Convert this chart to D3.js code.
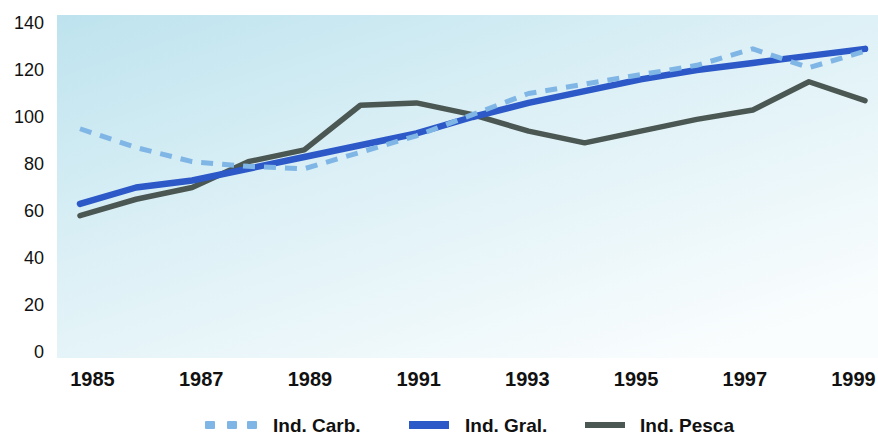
<!DOCTYPE html>
<html>
<head>
<meta charset="utf-8">
<script src="https://cdn.jsdelivr.net/npm/d3@7/dist/d3.min.js"></script>
<style>
  html, body { margin: 0; padding: 0; background: #fff; }
  svg { display: block; }
</style>
</head>
<body>
<svg id="mount" width="878" height="436"></svg>
<script>
var years = [1985, 1986, 1987, 1988, 1989, 1990, 1991, 1992, 1993, 1994, 1995, 1996, 1997, 1998, 1999];
var indCarb = [95, 87, 81, 79, 78, 85, 92, 101, 110, 114, 118, 122, 129, 121, 128];
var indGral = [63, 70, 73, 78, 83, 88, 93, 100, 106, 111, 116, 120, 123, 126, 129];
var indPesca = [58, 65, 70, 81, 86, 105, 106, 101, 94, 89, 94, 99, 103, 115, 107];
var xTicks = [1985, 1987, 1989, 1991, 1993, 1995, 1997, 1999];
var yTicks = [0, 20, 40, 60, 80, 100, 120, 140];
var seriesNames = ["Ind. Carb.", "Ind. Gral.", "Ind. Pesca"];

var colorCarb = "#80b6e6";
var colorGral = "#2c58c8";
var colorPesca = "#4b5752";

var svg = d3.select("#mount");

// background panel with soft gradient
var defs = svg.append("defs");
var grad = defs.append("linearGradient")
  .attr("id", "bg")
  .attr("x1", "0").attr("y1", "0")
  .attr("x2", "0.8").attr("y2", "1");
grad.append("stop").attr("offset", "0%").attr("stop-color", "#bee3ee");
grad.append("stop").attr("offset", "45%").attr("stop-color", "#dcf0f6");
grad.append("stop").attr("offset", "100%").attr("stop-color", "#fafdfe");

svg.append("rect")
  .attr("x", 57)
  .attr("y", 15)
  .attr("width", 821)
  .attr("height", 343)
  .attr("fill", "url(#bg)");

// scales
var x = d3.scaleLinear().domain([1985, 1999]).range([80, 865]);
var xLab = d3.scaleLinear().domain([1985, 1999]).range([92, 853]);
var y = d3.scaleLinear().domain([0, 140]).range([352, 23]);

// y axis labels
var yAxis = svg.append("g")
  .attr("transform", "translate(44,0)")
  .call(d3.axisLeft(y).tickValues(yTicks).tickSize(0).tickPadding(0));
yAxis.select(".domain").remove();
yAxis.selectAll("text")
  .attr("fill", "#111")
  .style("font-family", "'Liberation Sans', Arial, sans-serif")
  .style("font-size", "18px");

// x axis labels
var xAxis = svg.append("g")
  .attr("transform", "translate(0,372)")
  .call(d3.axisBottom(xLab).tickValues(xTicks).tickFormat(d3.format("d")).tickSize(0).tickPadding(0));
xAxis.select(".domain").remove();
xAxis.selectAll("text")
  .attr("fill", "#111")
  .style("font-family", "'Liberation Sans', Arial, sans-serif")
  .style("font-weight", "bold")
  .style("font-size", "20px");

function lineFor(values) {
  return d3.line()
    .x(function(d, i) { return x(years[i]); })
    .y(function(d) { return y(d); })(values);
}

var g = svg.append("g");

g.append("path")
  .attr("d", lineFor(indPesca))
  .attr("fill", "none")
  .attr("stroke", colorPesca)
  .attr("stroke-width", 5.5)
  .attr("stroke-linejoin", "round")
  .attr("stroke-linecap", "round");

g.append("path")
  .attr("d", lineFor(indGral))
  .attr("fill", "none")
  .attr("stroke", colorGral)
  .attr("stroke-width", 6.5)
  .attr("stroke-linejoin", "round")
  .attr("stroke-linecap", "round");

g.append("path")
  .attr("d", lineFor(indCarb))
  .attr("fill", "none")
  .attr("stroke", colorCarb)
  .attr("stroke-width", 5)
  .attr("stroke-dasharray", "12,9")
  .attr("stroke-linejoin", "round");

// legend
var legend = svg.append("g").attr("transform", "translate(0,425)");
var legendFont = "'Liberation Sans', Arial, sans-serif";

[205, 227, 247].forEach(function(px) {
  legend.append("rect")
    .attr("x", px).attr("y", -4)
    .attr("width", 10).attr("height", 8)
    .attr("rx", 1)
    .attr("fill", colorCarb);
});
legend.append("rect")
  .attr("x", 409).attr("y", -4)
  .attr("width", 40).attr("height", 8)
  .attr("fill", colorGral);
legend.append("rect")
  .attr("x", 585).attr("y", -3)
  .attr("width", 40).attr("height", 6)
  .attr("fill", colorPesca);

var legendX = [273, 465, 640];
seriesNames.forEach(function(name, i) {
  legend.append("text")
    .attr("x", legendX[i])
    .attr("y", 7)
    .attr("fill", "#111")
    .style("font-family", legendFont)
    .style("font-weight", "bold")
    .style("font-size", "19px")
    .text(name);
});
</script>
</body>
</html>
